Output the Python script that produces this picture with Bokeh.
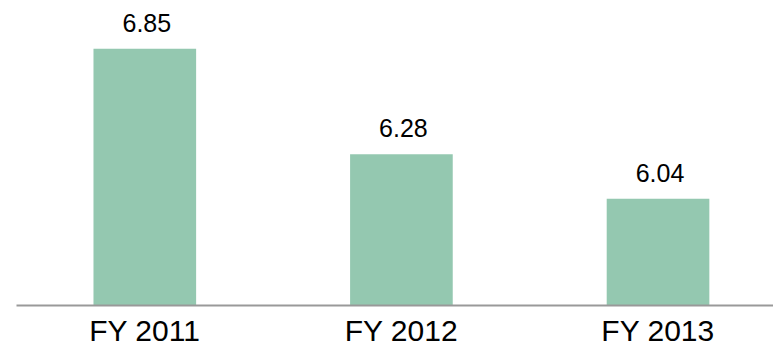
import numpy as np
from bokeh.plotting import figure
from bokeh.models import ColumnDataSource, Range1d, FixedTicker
from bokeh.core.properties import value
from bokeh.embed import file_html
from bokeh.resources import INLINE

categories = ["FY 2011", "FY 2012", "FY 2013"]
values = [6.85, 6.28, 6.04]
value_labels = ["6.85", "6.28", "6.04"]

base = 5.464
top = 7.11

xs = np.arange(len(categories)) + 0.5
src = ColumnDataSource(dict(x=xs, top=values, label=value_labels))

p = figure(width=773, height=349, output_backend="svg", toolbar_location=None,
           x_range=Range1d(0, 2.95), y_range=Range1d(base, top),
           min_border_left=16, min_border_right=0, min_border_top=0, min_border_bottom=0)
p.outline_line_color = None
p.background_fill_color = "white"
p.border_fill_color = "white"
p.grid.visible = False
p.yaxis.visible = False

p.vbar(x="x", top="top", bottom=base, width=0.4, source=src,
       fill_color="#94c8b0", line_color=None)

p.text(x="x", y="top", text="label", source=src, text_align="center",
       text_baseline="alphabetic", y_offset=-26, x_offset=2,
       text_font=value("Liberation Sans"), text_font_size="25px", text_color="#000000")

ax = p.xaxis[0]
ax.ticker = FixedTicker(ticks=list(xs))
ax.major_label_overrides = {float(x): c for x, c in zip(xs, categories)}
ax.major_tick_line_color = None
ax.minor_tick_line_color = None
ax.axis_line_color = "#999999"
ax.axis_line_width = 2
ax.major_label_text_font = "Liberation Sans"
ax.major_label_text_font_size = "30px"
ax.major_label_text_color = "#000000"
ax.major_label_standoff = 2

open("out.html", "w").write(file_html(p, INLINE))
